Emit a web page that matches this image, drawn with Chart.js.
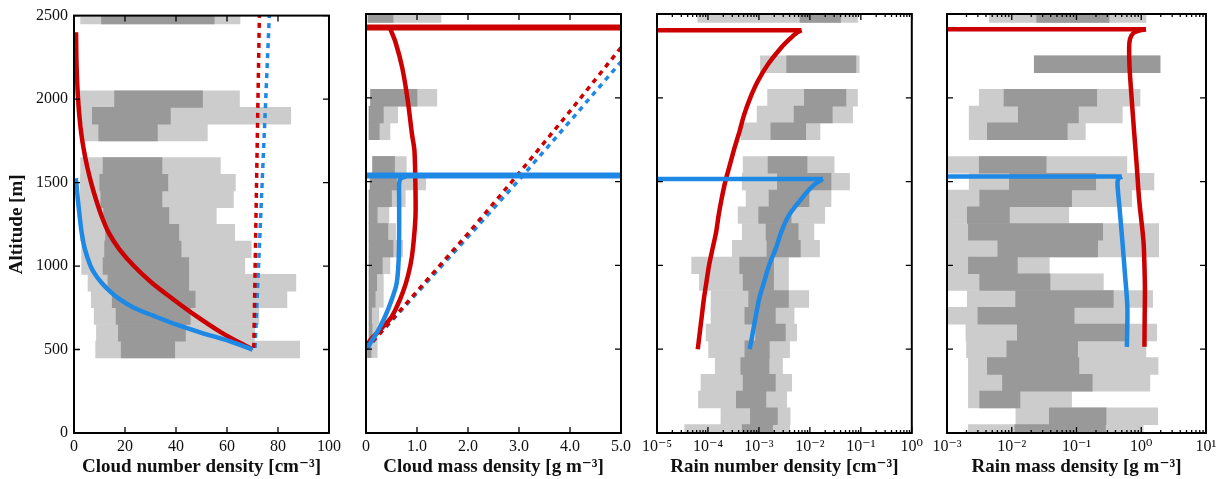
<!DOCTYPE html>
<html>
<head>
<meta charset="utf-8">
<script src="https://cdn.jsdelivr.net/npm/chart.js@4.4.1/dist/chart.umd.min.js"></script>
<style>
  body { margin: 0; background: #fff; }
  canvas { position: absolute; top: 0; }
</style>
</head>
<body>
<canvas id="c1" width="345" height="479" style="left:0px"></canvas>
<canvas id="c2" width="290" height="479" style="left:345px"></canvas>
<canvas id="c3" width="292" height="479" style="left:635px"></canvas>
<canvas id="c4" width="298" height="479" style="left:927px"></canvas>
<script>
// ---- altitude bins [m] ----
const cloudBins = [2500, 2000, 1900, 1800, 1600, 1500, 1400, 1300, 1200, 1100, 1000, 900, 800, 700, 600, 500];
const rainBins = [2500, 2200, 2000, 1900, 1800, 1600, 1500, 1400, 1300, 1200, 1100, 1000, 900, 800, 700, 600, 500, 400, 300, 200, 100, 0];

// ---- panel 1: cloud number density [cm-3], percentiles per bin ----
const cnd10 = [2.6, 2.1, 2.6, 3.6, 2.6, 2.5, 2.5, 2.5, 2.5, 3.0, 3.0, 5.5, 6.8, 7.9, 8.8, 8.5];
const cnd25 = [10.8, 15.9, 7.2, 9.7, 11.4, 10.1, 10.5, 11.6, 12.4, 12.0, 11.4, 13.3, 15.0, 16.5, 17.4, 18.5];
const cnd75 = [55.0, 50.4, 37.8, 32.7, 34.5, 36.8, 34.5, 37.2, 41.1, 42.0, 45.0, 45.0, 47.5, 45.6, 43.7, 39.5];
const cnd90 = [65.1, 64.9, 85.0, 52.3, 57.4, 63.3, 62.5, 55.8, 63.0, 69.5, 67.0, 87.0, 83.5, 72.5, 70.8, 88.5];
const cndRedAlt = [500, 600, 700, 800, 900, 1000, 1100, 1200, 1300, 1400, 1500, 1600, 1700, 1800, 1900, 2000, 2100, 2200, 2300, 2400];
const cndRed = [70, 58, 48, 39, 30.5, 23.5, 17.8, 13.6, 10.8, 8.6, 6.7, 5.1, 3.8, 2.8, 2.1, 1.6, 1.25, 1.0, 0.88, 0.8];
const cndBlueAlt = [500, 550, 600, 650, 700, 750, 800, 850, 900, 950, 1000, 1100, 1200, 1300, 1400, 1500, 1525];
const cndBlue = [70, 61, 50, 40, 31.5, 23.5, 18, 14, 10.8, 8.3, 6.5, 4.3, 3.0, 2.2, 1.5, 0.9, 0.7];
const cndRedAdAlt = [510, 2500];
const cndRedAd = [70.5, 72.7];
const cndBlueAdAlt = [510, 2500];
const cndBlueAd = [71.0, 76.6];

// ---- panel 2: cloud mass density [g m-3] ----
const cmd10 = [0.04, 0.09, 0.06, 0.06, 0.13, 0.08, 0.06, 0.06, 0.06, 0.06, 0.06, 0.06, 0.06, 0.06, 0.06, 0.05];
const cmd25 = [0.04, 0.09, 0.06, 0.06, 0.13, 0.08, 0.06, 0.06, 0.06, 0.06, 0.06, 0.06, 0.06, 0.06, 0.06, 0.03];
const cmd75 = [0.53, 1.0, 0.34, 0.26, 0.56, 0.6, 0.5, 0.22, 0.43, 0.53, 0.32, 0.21, 0.18, 0.11, 0.12, 0.1];
const cmd90 = [1.47, 1.39, 0.62, 0.47, 0.79, 1.17, 0.77, 0.45, 0.58, 0.72, 0.47, 0.34, 0.34, 0.25, 0.22, 0.22];
const cmdRedAlt = [505, 553, 613, 692, 792, 891, 1000, 1100, 1290, 1450, 1685, 1786, 1982, 2180, 2330, 2415];
const cmdRed = [0, 0.08, 0.27, 0.5, 0.66, 0.78, 0.87, 0.92, 0.97, 0.97, 0.95, 0.9, 0.82, 0.71, 0.58, 0.47];
const cmdBlueAlt = [505, 534, 613, 692, 792, 891, 1030, 1200, 1400, 1490, 1518, 1530];
const cmdBlue = [0, 0.08, 0.24, 0.37, 0.5, 0.6, 0.64, 0.65, 0.65, 0.65, 0.68, 0.78];
const cmdRedTop = 2420, cmdBlueTop = 1536;
const cmdRedAdAlt = [500, 845, 1190, 1550, 1920, 2300];
const cmdBlueAdAlt = [500, 835, 1170, 1510, 1860, 2215];
const cmdAd = [0, 1, 2, 3, 4, 5];

// ---- panel 3: rain number density [cm-3] ----
const rnd10 = [6.3e-5, 1.07e-3, 1.48e-3, 9.2e-4, 4.5e-4, 4.9e-4, 4.7e-4, 5.6e-4, 3.9e-4, 4.7e-4, 3.0e-4, 4.8e-5, 6.8e-5, 1.15e-4, 1.15e-4, 9.2e-5, 1.03e-4, 1.39e-4, 7.3e-5, 6.5e-5, 1.8e-4, 3.5e-5];
const rnd25 = [6.4e-3, 3.5e-3, 7.8e-3, 4.9e-3, 1.72e-3, 1.51e-3, 2.3e-3, 1.58e-3, 9.9e-4, 1.38e-3, 1.44e-3, 4.2e-4, 4.9e-4, 6.3e-4, 5.3e-4, 8.6e-4, 5.3e-4, 4.4e-4, 4.9e-4, 3.6e-4, 6.8e-4, 4.7e-4];
const rnd75 = [4.0e-2, 8.0e-2, 5.1e-2, 2.75e-2, 8.3e-3, 8.8e-3, 2.6e-2, 9.6e-3, 4.3e-3, 5.9e-3, 6.5e-3, 1.94e-3, 1.94e-3, 3.8e-3, 2.1e-3, 3.3e-3, 1.6e-3, 1.58e-3, 2.1e-3, 1.37e-3, 2.3e-3, 1.85e-3];
const rnd90 = [8.6e-2, 9.3e-2, 8.6e-2, 6.9e-2, 1.58e-2, 3.0e-2, 6.0e-2, 2.6e-2, 1.95e-2, 1.2e-2, 1.55e-2, 3.8e-3, 3.8e-3, 9.5e-3, 4.9e-3, 5.5e-3, 4.0e-3, 2.9e-3, 4.4e-3, 3.5e-3, 4.1e-3, 4.0e-3];
const rndRedAlt = [500, 600, 700, 800, 900, 1000, 1100, 1200, 1300, 1400, 1500, 1600, 1700, 1800, 1900, 2000, 2100, 2200, 2300, 2350, 2390, 2403];
const rndRed = [6.31e-5, 6.92e-5, 7.59e-5, 8.32e-5, 9.33e-5, 1.05e-4, 1.23e-4, 1.45e-4, 1.62e-4, 1.86e-4, 2.19e-4, 2.69e-4, 3.31e-4, 4.17e-4, 5.13e-4, 6.76e-4, 9.55e-4, 1.51e-3, 2.75e-3, 3.98e-3, 5.62e-3, 6.84e-3];
const rndBlueAlt = [500, 600, 700, 800, 900, 1000, 1100, 1200, 1300, 1400, 1450, 1490, 1516];
const rndBlue = [6.61e-4, 7.59e-4, 8.71e-4, 1.01e-3, 1.26e-3, 1.58e-3, 2.14e-3, 2.75e-3, 3.89e-3, 6.92e-3, 9.55e-3, 1.32e-2, 1.8e-2];

// ---- panel 4: rain mass density [g m-3] ----
const rmd10 = [4.5e-3, 2.23e-2, 3.15e-3, 2.2e-3, 2.2e-3, 1.05e-3, 2.2e-3, 1.05e-3, 1.05e-3, 1.05e-3, 1.05e-3, 1.05e-3, 1.05e-3, 2.06e-3, 1.05e-3, 1.96e-3, 2.0e-3, 2.14e-3, 2.14e-3, 2.14e-3, 1.16e-2, 2.14e-3];
const rmd25 = [2.43e-2, 2.23e-2, 7.6e-3, 1.26e-2, 4.2e-3, 3.15e-3, 9.2e-3, 3.2e-3, 2.06e-3, 2.14e-3, 6.1e-3, 2.14e-3, 3.2e-3, 1.15e-2, 3.0e-3, 1.22e-2, 8.4e-3, 4.2e-3, 7.2e-3, 3.2e-3, 3.8e-2, 1.12e-2];
const rmd75 = [0.318, 1.95, 0.205, 0.107, 7.2e-2, 3.4e-2, 0.198, 8.4e-2, 9.2e-3, 0.254, 0.212, 1.22e-2, 3.9e-2, 0.37, 9.2e-2, 0.63, 0.104, 0.109, 0.175, 1.34e-2, 0.286, 0.28];
const rmd90 = [1.18, 1.95, 0.957, 0.51, 0.137, 0.6, 1.57, 0.71, 7.6e-2, 1.86, 1.86, 3.8e-2, 0.26, 1.5, 0.56, 1.73, 1.18, 1.82, 1.36, 8.4e-2, 1.8, 1.07];
const rmdRedAlt = [514, 700, 851, 1000, 1149, 1389, 1600, 1786, 2000, 2180, 2300, 2350, 2385, 2400, 2409];
const rmdRed = [1.12, 1.13, 1.14, 1.12, 1.08, 0.93, 0.85, 0.78, 0.71, 0.66, 0.65, 0.67, 0.75, 0.9, 1.18];
const rmdBlueAlt = [514, 752, 950, 1149, 1350, 1480, 1515, 1530];
const rmdBlue = [0.6, 0.61, 0.56, 0.51, 0.46, 0.43, 0.44, 0.5];

const RED = '#cc0000';
const BLUE = '#1e88e5';
const LIGHT = '#cccccc';
const DARK = '#999999';

Chart.defaults.font.family = "'Liberation Serif', 'DejaVu Serif', serif";
Chart.defaults.font.size = 16;
Chart.defaults.color = '#111';

const SUP = {'-': '\u207b', '0': '\u2070', '1': '\u00b9', '2': '\u00b2', '3': '\u00b3', '4': '\u2074', '5': '\u2075', '6': '\u2076', '7': '\u2077', '8': '\u2078', '9': '\u2079'};
function isDecade(v) {
  const e = Math.log10(v);
  return Math.abs(e - Math.round(e)) < 1e-6;
}
function isIntMantissa(v) {
  const m = v / Math.pow(10, Math.floor(Math.log10(v) + 1e-9));
  return Math.abs(m - Math.round(m)) < 1e-6;
}
function powLabel(v) {
  if (!isDecade(v)) return '';
  const e = Math.round(Math.log10(v));
  return '10' + String(e).split('').map(c => SUP[c]).join('');
}

function bands(bins, p10, p25, p75, p90) {
  const common = {type: 'bar', grouped: false, barPercentage: 1, categoryPercentage: 1, borderWidth: 0, clip: 0};
  return [
    Object.assign({data: bins.map((b, i) => ({y: b, x: [p10[i], p90[i]]})), backgroundColor: LIGHT, order: 3}, common),
    Object.assign({data: bins.map((b, i) => ({y: b, x: [p25[i], p75[i]]})), backgroundColor: DARK, order: 2}, common)
  ];
}

function curve(alts, vals, color, extra) {
  return Object.assign({
    type: 'line',
    data: alts.map((a, i) => ({x: vals[i], y: a})),
    borderColor: color, borderWidth: 4.5, pointRadius: 0,
    tension: 0.3, fill: false, order: 0, borderCapStyle: 'butt'
  }, extra || {});
}
const dashed = {borderDash: [5, 5], borderWidth: 3.5, tension: 0, order: 1};

// inward tick marks on all four sides + black frame
const frame = {
  id: 'frame',
  afterDatasetsDraw(chart) {
    const {ctx, chartArea: a, scales: {x, y}} = chart;
    const logX = x.type === 'logarithmic';
    ctx.save();
    ctx.strokeStyle = '#000';
    ctx.lineWidth = 1.3;
    ctx.beginPath();
    x.ticks.forEach(t => {
      let len = 6;
      if (logX) {
        if (!isIntMantissa(t.value)) return;
        len = isDecade(t.value) ? 6 : 3;
      }
      const px = x.getPixelForValue(t.value);
      ctx.moveTo(px, a.bottom); ctx.lineTo(px, a.bottom - len);
      ctx.moveTo(px, a.top); ctx.lineTo(px, a.top + len);
    });
    y.ticks.forEach(t => {
      const py = y.getPixelForValue(t.value);
      ctx.moveTo(a.left, py); ctx.lineTo(a.left + 6, py);
      ctx.moveTo(a.right, py); ctx.lineTo(a.right - 6, py);
    });
    ctx.stroke();
    ctx.lineWidth = 2;
    ctx.strokeRect(a.left, a.top, a.right - a.left, a.bottom - a.top);
    ctx.restore();
  }
};

function makePanel(id, cfg) {
  const xTicks = Object.assign({padding: 4, maxRotation: 0, autoSkip: false}, cfg.xTicks || {});
  new Chart(document.getElementById(id), {
    type: 'bar',
    data: {datasets: cfg.datasets},
    options: {
      indexAxis: 'y',
      responsive: false,
      animation: false,
      events: [],
      layout: {padding: cfg.padding},
      plugins: {legend: {display: false}, tooltip: {enabled: false}},
      scales: {
        x: Object.assign({
          grid: {display: false, drawTicks: false},
          border: {display: false},
          ticks: xTicks,
          title: {display: true, text: cfg.xTitle, color: '#111', font: {size: 19, weight: 'bold'}, padding: {top: 0, bottom: 1}},
          afterFit: s => { s.height = 46; }
        }, cfg.x),
        y: {
          type: 'linear', min: 0, max: 2500, offset: false,
          grid: {display: false, drawTicks: false},
          border: {display: false},
          ticks: {stepSize: 500, padding: 6, display: !!cfg.showY, callback: v => String(v)},
          title: {display: !!cfg.showY, text: 'Altitude [m]', color: '#111', font: {size: 19, weight: 'bold'}, padding: {top: 6, bottom: 0}},
          afterFit: s => { s.width = cfg.showY ? 74 : 0; }
        }
      }
    },
    plugins: [frame]
  });
}

makePanel('c1', {
  showY: true,
  padding: {top: 14, right: 13, bottom: 0, left: 0},
  xTitle: 'Cloud number density [cm\u207b\u00b3]',
  xTicks: {stepSize: 20, callback: v => String(v)},
  x: {type: 'linear', min: 0, max: 100},
  datasets: [
    ...bands(cloudBins, cnd10, cnd25, cnd75, cnd90),
    curve(cndRedAdAlt, cndRedAd, RED, dashed),
    curve(cndBlueAdAlt, cndBlueAd, BLUE, dashed),
    curve(cndBlueAlt, cndBlue, BLUE),
    curve(cndRedAlt, cndRed, RED)
  ]
});

makePanel('c2', {
  padding: {top: 14, right: 12, bottom: 0, left: 21},
  xTitle: 'Cloud mass density [g m\u207b\u00b3]',
  xTicks: {stepSize: 1, callback: v => v === 0 ? '0' : Number(v).toFixed(1)},
  x: {type: 'linear', min: 0, max: 5},
  datasets: [
    ...bands(cloudBins, cmd10, cmd25, cmd75, cmd90),
    curve(cmdRedAdAlt, cmdAd, RED, dashed),
    curve(cmdBlueAdAlt, cmdAd, BLUE, dashed),
    curve([cmdBlueTop, cmdBlueTop], [0, 5], BLUE, {borderWidth: 6, tension: 0}),
    curve([cmdRedTop, cmdRedTop], [0, 5], RED, {borderWidth: 6, tension: 0}),
    curve(cmdBlueAlt, cmdBlue, BLUE),
    curve(cmdRedAlt, cmdRed, RED)
  ]
});

makePanel('c3', {
  padding: {top: 14, right: 12, bottom: 0, left: 22},
  xTitle: 'Rain number density [cm\u207b\u00b3]',
  xTicks: {callback: powLabel},
  x: {type: 'logarithmic', min: 1e-5, max: 1},
  datasets: [
    ...bands(rainBins, rnd10, rnd25, rnd75, rnd90),
    curve([rndBlueAlt[rndBlueAlt.length - 1], rndBlueAlt[rndBlueAlt.length - 1]], [1e-5, rndBlue[rndBlue.length - 1]], BLUE, {tension: 0}),
    curve([rndRedAlt[rndRedAlt.length - 1], rndRedAlt[rndRedAlt.length - 1]], [1e-5, rndRed[rndRed.length - 1]], RED, {tension: 0}),
    curve(rndBlueAlt, rndBlue, BLUE),
    curve(rndRedAlt, rndRed, RED)
  ]
});

makePanel('c4', {
  padding: {top: 14, right: 19, bottom: 0, left: 20},
  xTitle: 'Rain mass density [g m\u207b\u00b3]',
  xTicks: {callback: powLabel},
  x: {type: 'logarithmic', min: 1e-3, max: 10},
  datasets: [
    ...bands(rainBins, rmd10, rmd25, rmd75, rmd90),
    curve([rmdBlueAlt[rmdBlueAlt.length - 1], rmdBlueAlt[rmdBlueAlt.length - 1]], [1e-3, rmdBlue[rmdBlue.length - 1]], BLUE, {tension: 0}),
    curve([rmdRedAlt[rmdRedAlt.length - 1], rmdRedAlt[rmdRedAlt.length - 1]], [1e-3, rmdRed[rmdRed.length - 1]], RED, {tension: 0}),
    curve(rmdBlueAlt, rmdBlue, BLUE),
    curve(rmdRedAlt, rmdRed, RED)
  ]
});
</script>
</body>
</html>
